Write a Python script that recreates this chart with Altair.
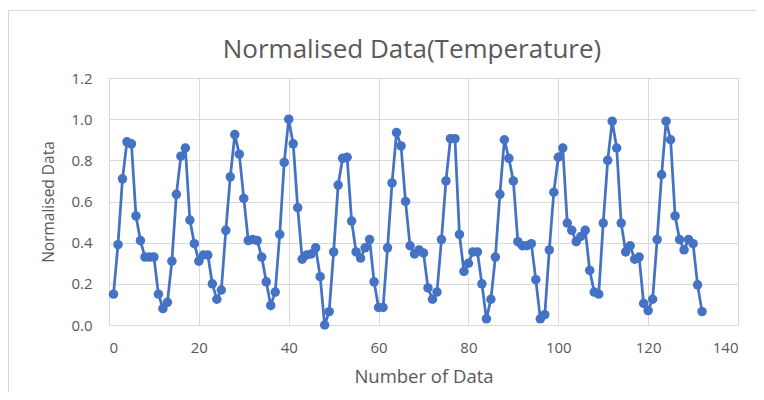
import altair as alt
import pandas as pd

n_vals = list(range(1, 133))
temp_norm = [
    0.15, 0.39, 0.71, 0.89, 0.88, 0.53, 0.41, 0.33, 0.33, 0.33,
    0.15, 0.08, 0.11, 0.31, 0.635, 0.82, 0.86, 0.51, 0.395, 0.31,
    0.34, 0.34, 0.20, 0.125, 0.17, 0.46, 0.72, 0.925, 0.83, 0.615,
    0.41, 0.415, 0.41, 0.33, 0.21, 0.095, 0.16, 0.44, 0.79, 1.0,
    0.88, 0.57, 0.32, 0.34, 0.345, 0.375, 0.235, 0.0, 0.065, 0.355,
    0.68, 0.81, 0.815, 0.505, 0.355, 0.325, 0.375, 0.415, 0.21, 0.085,
    0.085, 0.375, 0.69, 0.935, 0.87, 0.60, 0.385, 0.345, 0.365, 0.35,
    0.18, 0.125, 0.16, 0.415, 0.70, 0.905, 0.905, 0.44, 0.26, 0.30,
    0.355, 0.355, 0.20, 0.03, 0.125, 0.33, 0.635, 0.90, 0.81, 0.70,
    0.405, 0.385, 0.385, 0.395, 0.22, 0.03, 0.05, 0.365, 0.645, 0.815,
    0.86, 0.495, 0.46, 0.405, 0.43, 0.46, 0.265, 0.16, 0.15, 0.495,
    0.80, 0.99, 0.86, 0.495, 0.355, 0.385, 0.32, 0.33, 0.105, 0.07,
    0.125, 0.415, 0.73, 0.99, 0.90, 0.53, 0.415, 0.365, 0.415, 0.395,
    0.195, 0.065,
]
x_ticks = [0, 20, 40, 60, 80, 100, 120, 140]
y_ticks = [0.0, 0.2, 0.4, 0.6, 0.8, 1.0, 1.2]
title_text = "Normalised Data(Temperature)"

df = pd.DataFrame({"n": n_vals, "v": temp_norm})

FONT = "Open Sans"
TXT = "#595959"
GRID = "#d9d9d9"
BLUE = "#4472C4"

line = alt.Chart(df).mark_line(
    color=BLUE, strokeWidth=2.75,
    point=alt.OverlayMarkDef(filled=True, size=90, color=BLUE, opacity=1),
).encode(
    x=alt.X("n:Q", scale=alt.Scale(domain=[0, 140], nice=False),
            axis=alt.Axis(values=x_ticks, title="Number of Data", format="d",
                          labelPadding=15, titlePadding=12, titleFontSize=18.5)),
    y=alt.Y("v:Q", scale=alt.Scale(domain=[0, 1.2], nice=False),
            axis=alt.Axis(values=y_ticks, title="Normalised Data", format=".1f",
                          labelPadding=17, titlePadding=14, titleFontSize=15.5,
                          domain=False)),
)

base = alt.Chart(pd.DataFrame({"a": [0]}))

frame_left = base.mark_rule(stroke=GRID, strokeWidth=1.2).encode(
    x=alt.value(-100.5), y=alt.value(-67.5), y2=alt.value(330),
)
frame_top = base.mark_rule(stroke=GRID, strokeWidth=1.2).encode(
    x=alt.value(-100.5), x2=alt.value(670), y=alt.value(-67.5),
)

title = base.mark_text(
    font=FONT, fontSize=26, color=TXT, align="center", baseline="alphabetic"
).encode(
    x=alt.value(303), y=alt.value(-20), text=alt.value(title_text),
)

chart = alt.layer(frame_left, frame_top, line, title).properties(
    width=629, height=247,
    autosize=alt.AutoSizeParams(type="none"),
    padding={"left": 101, "top": 70, "right": 18, "bottom": 67},
).configure_axis(
    labelFont=FONT, labelFontSize=15, labelColor=TXT,
    titleFont=FONT, titleColor=TXT, titleFontWeight="normal",
    gridColor=GRID, gridWidth=1, ticks=False, domainColor=GRID, domainWidth=1.2,
).configure_view(stroke=GRID, strokeWidth=1)

chart.save("out.html", embed_options={"renderer": "svg", "actions": False})
